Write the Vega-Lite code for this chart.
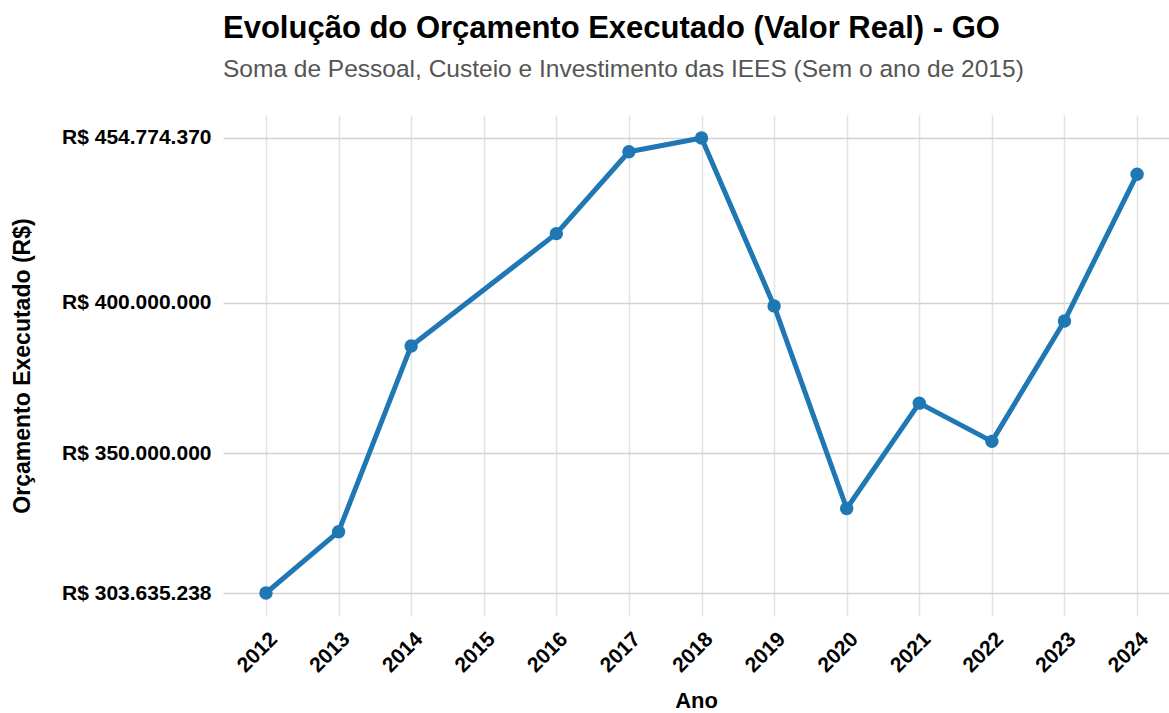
{
  "$schema": "https://vega.github.io/schema/vega-lite/v6.json",
  "autosize": {"type": "none"},
  "width": 946,
  "height": 501,
  "padding": {"left": 223, "top": 115, "right": 0, "bottom": 97},
  "background": "white",
  "config": {
    "font": "Liberation Sans",
    "view": {"stroke": null}
  },
  "title": {
    "text": "Evolução do Orçamento Executado (Valor Real) - GO",
    "subtitle": "Soma de Pessoal, Custeio e Investimento das IEES (Sem o ano de 2015)",
    "anchor": "start",
    "frame": "group",
    "font": "Liberation Sans",
    "fontSize": 31,
    "fontWeight": "bold",
    "color": "#000000",
    "subtitleFont": "Liberation Sans",
    "subtitleFontSize": 24.5,
    "subtitleColor": "#555555",
    "subtitlePadding": 13,
    "offset": 33
  },
  "data": {
    "values": [
      {"ano": 2012, "valor": 303635238},
      {"ano": 2013, "valor": 324000000},
      {"ano": 2014, "valor": 385700000},
      {"ano": 2016, "valor": 423000000},
      {"ano": 2017, "valor": 450200000},
      {"ano": 2018, "valor": 454774370},
      {"ano": 2019, "valor": 399000000},
      {"ano": 2020, "valor": 331700000},
      {"ano": 2021, "valor": 366700000},
      {"ano": 2022, "valor": 354000000},
      {"ano": 2023, "valor": 394000000},
      {"ano": 2024, "valor": 442700000}
    ]
  },
  "encoding": {
    "x": {
      "field": "ano",
      "type": "quantitative",
      "scale": {"domain": [2011.408, 2024.44], "nice": false, "zero": false},
      "axis": {
        "title": "Ano",
        "titleFont": "Liberation Sans",
        "titleFontSize": 22,
        "titleFontWeight": "bold",
        "titleColor": "#000000",
        "titlePadding": 15,
        "values": [2012, 2013, 2014, 2015, 2016, 2017, 2018, 2019, 2020, 2021, 2022, 2023, 2024],
        "format": "d",
        "labelAngle": -45,
        "labelAlign": "right",
        "labelBaseline": "top",
        "labelFont": "Liberation Sans",
        "labelFontSize": 21,
        "labelFontWeight": "bold",
        "labelColor": "#000000",
        "labelPadding": 12,
        "labelOverlap": false,
        "domain": false,
        "ticks": false,
        "grid": true,
        "gridColor": "#e3e3e3",
        "gridWidth": 1.5
      }
    },
    "y": {
      "field": "valor",
      "type": "quantitative",
      "scale": {"domain": [296000000, 462400000], "nice": false, "zero": false},
      "axis": {
        "title": "Orçamento Executado (R$)",
        "titleFont": "Liberation Sans",
        "titleFontSize": 23,
        "titleFontWeight": "bold",
        "titleColor": "#000000",
        "titlePadding": 27,
        "values": [303635238, 350000000, 400000000, 454774370],
        "labelExpr": "'R$ ' + replace(format(datum.value, ',.0f'), regexp(',', 'g'), '.')",
        "labelFont": "Liberation Sans",
        "labelFontSize": 21,
        "labelFontWeight": "bold",
        "labelColor": "#000000",
        "labelPadding": 12,
        "domain": false,
        "ticks": false,
        "grid": true,
        "gridColor": "#d2d2d2",
        "gridWidth": 1.5
      }
    }
  },
  "layer": [
    {
      "mark": {"type": "line", "color": "#1f77b4", "strokeWidth": 5, "strokeCap": "round", "strokeJoin": "round"}
    },
    {
      "mark": {"type": "point", "filled": true, "color": "#1f77b4", "size": 180, "opacity": 1}
    }
  ]
}
